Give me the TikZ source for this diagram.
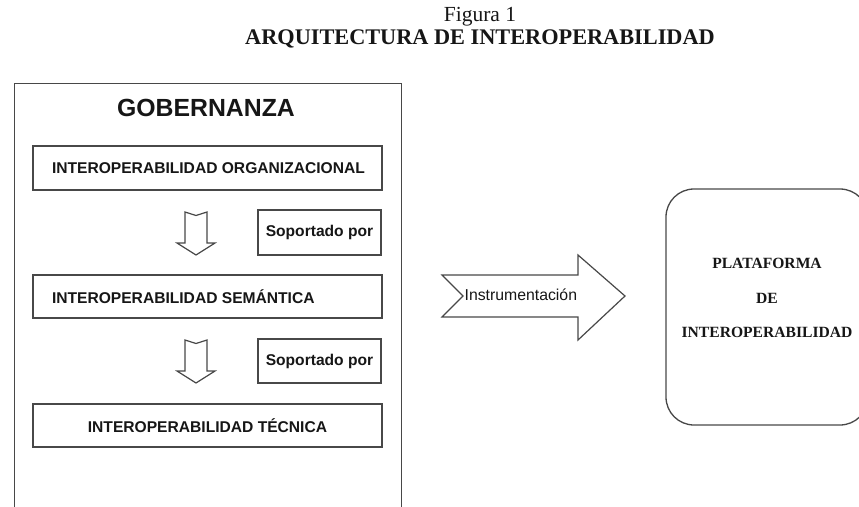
\documentclass[tikz,border=0pt]{standalone}
\usepackage{fontspec}
\setmainfont{Liberation Serif}
\setsansfont{Liberation Sans}
\definecolor{linecol}{RGB}{72,72,72}
\definecolor{txtcol}{RGB}{22,22,22}
\newcommand{\lefttext}[1]{\makebox[311pt][l]{#1}}
\begin{document}
\begin{tikzpicture}[x=1pt,y=-1pt,
  line width=1.3pt,
  box/.style={draw=linecol, rectangle, inner ysep=0pt, minimum height=44pt,
    text=txtcol, font=\sffamily\bfseries\fontsize{15.6}{18}\selectfont},
  lbox/.style={box, inner xsep=19pt},
  cbox/.style={box, inner xsep=0pt, minimum width=349pt, align=center},
  sbox/.style={box, inner sep=0pt, minimum width=123pt, minimum height=45pt},
  blockarrow/.style={draw=linecol, fill=white, line width=1.2pt, line join=miter},
  serifb/.style={text=txtcol, font=\rmfamily\bfseries\fontsize{15.6}{34.5}\selectfont, align=center}
]
\useasboundingbox (0,0) rectangle (859,506);
\clip (0,0) rectangle (859,506);

% Title
\node[text=txtcol, font=\rmfamily\fontsize{21.5}{24}\selectfont] (fig) at (480,17) {Figura 1};
\node[text=txtcol, font=\rmfamily\bfseries\fontsize{22.3}{24}\selectfont] (tit) at (480,39) {ARQUITECTURA DE INTEROPERABILIDAD};

% Governance container (cut off at the bottom)
\node[draw=linecol, rectangle, minimum width=387pt, minimum height=470pt, anchor=north west, inner sep=0pt] (gob) at (14,83) {};
\node[text=txtcol, font=\sffamily\bfseries\fontsize{24.8}{28}\selectfont] (gobt) at (206,107.5) {GOBERNANZA};

% Layers
\node[lbox] (org) at (207.5,168) {\lefttext{INTEROPERABILIDAD ORGANIZACIONAL}};
\node[lbox, minimum height=43pt] (sem) at (207.5,296.5) {\lefttext{INTEROPERABILIDAD SEMÁNTICA}};
\node[cbox, minimum height=43pt] (tec) at (207.5,425.5) {INTEROPERABILIDAD TÉCNICA};

% Soportado por boxes
\node[sbox] (sp1) at (319.5,232.5) {Soportado por};
\node[sbox, minimum height=44pt] (sp2) at (319.5,361) {Soportado por};

% Down block arrows
\draw[blockarrow] (185,212) -- (196,215.5) -- (207,212) -- (207,243) -- (215,243)
  -- (196,255) -- (177,243) -- (185,243) -- cycle;
\draw[blockarrow] (185,340) -- (196,343.5) -- (207,340) -- (207,371) -- (215,371)
  -- (196,383) -- (177,371) -- (185,371) -- cycle;

% Instrumentacion block arrow
\draw[blockarrow] (442,275) -- (578,275) -- (578,255) -- (625,296) -- (578,340)
  -- (578,317) -- (442,317) -- (463,296) -- cycle;
\node[anchor=west, inner sep=0pt, text=txtcol, font=\sffamily\fontsize{15.8}{18}\selectfont] (instr) at (464,295) {Instrumentación};

% Platform
\node[draw=linecol, rounded corners=28pt, minimum width=202pt, minimum height=236pt, inner sep=0pt] (plat) at (767,307) {};
\node[serifb] (platt) at (767,298) {PLATAFORMA\\DE\\INTEROPERABILIDAD};
\end{tikzpicture}
\end{document}
